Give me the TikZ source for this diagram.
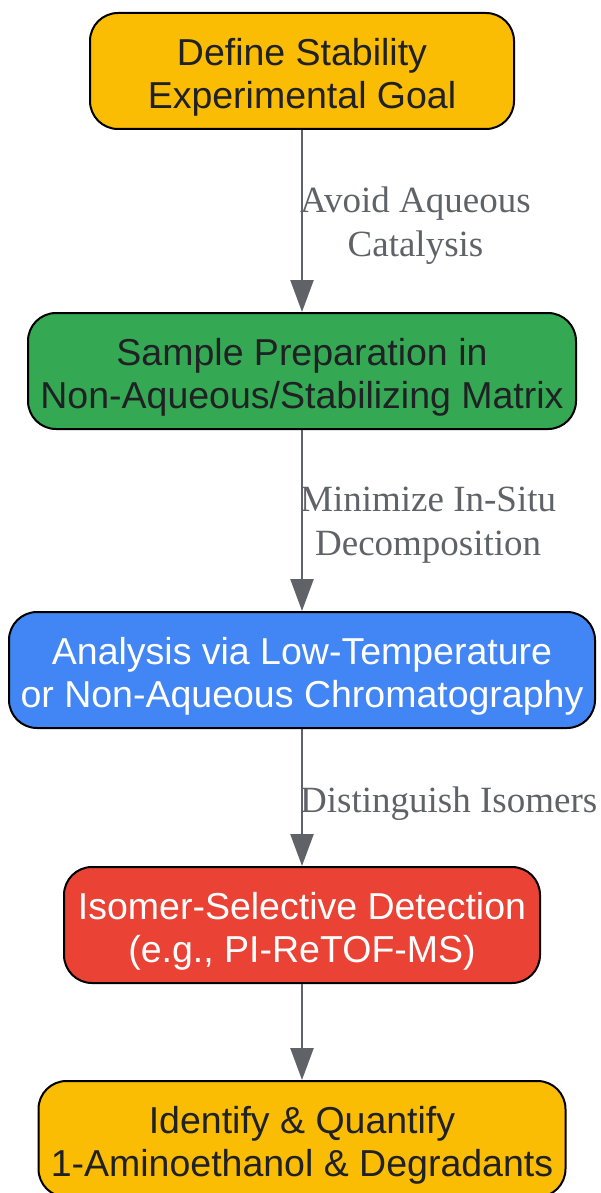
\documentclass[tikz,border=0pt]{standalone}
\usepackage{fontspec}
\setmainfont{Liberation Serif}
\setsansfont{Liberation Sans}
\usetikzlibrary{shapes,arrows.meta}
\definecolor{goalyellow}{HTML}{FBBC04}
\definecolor{prepgreen}{HTML}{34A853}
\definecolor{anablue}{HTML}{4285F4}
\definecolor{detred}{HTML}{EA4335}
\definecolor{textdark}{HTML}{202124}
\definecolor{edgegray}{HTML}{5F6368}
\newcommand{\upstrut}{\rule{0pt}{40pt}}
\tikzstyle{bx}=[rectangle,rounded corners=28pt,draw=black,line width=2pt,minimum height=116pt,align=center,inner sep=0pt,font=\sffamily\fontsize{37.5}{43}\selectfont]
\tikzstyle{lbl}=[anchor=west,align=center,inner sep=0pt,text=edgegray,font=\fontsize{37}{44}\selectfont]
\tikzstyle{arr}=[draw=edgegray,line width=2.5pt,-{Triangle[length=32pt,width=23pt]}]

\begin{document}
\begin{tikzpicture}[x=1pt,y=-1pt]
\useasboundingbox (0,0) rectangle (600,1193);
\node[bx,fill=goalyellow,text=textdark,minimum width=424pt] (goal) at (302,71) {\upstrut Define Stability\\Experimental Goal};
\node[bx,fill=prepgreen,text=textdark,minimum width=548pt] (prep) at (302,371) {\upstrut Sample Preparation in\\Non-Aqueous/Stabilizing Matrix};
\node[bx,fill=anablue,text=white,minimum width=586pt] (ana) at (302,670) {\upstrut Analysis via Low-Temperature\\or Non-Aqueous Chromatography};
\node[bx,fill=detred,text=white,minimum width=476pt] (det) at (302,925) {\upstrut Isomer-Selective Detection\\(e.g., PI-ReTOF-MS)};
\node[bx,fill=goalyellow,text=textdark,minimum width=527pt] (quant) at (302,1139) {\upstrut Identify \& Quantify\\1-Aminoethanol \& Degradants};
\draw[arr] (goal) -- (prep);
\draw[arr] (prep) -- (ana);
\draw[arr] (ana) -- (det);
\draw[arr] (det) -- (quant);
\node[lbl] (l1) at (300,226) {Avoid Aqueous\\Catalysis};
\node[lbl] (l2) at (300,525) {Minimize In-Situ\\Decomposition};
\node[lbl] (l3) at (300,804) {Distinguish Isomers};
\end{tikzpicture}
\end{document}
